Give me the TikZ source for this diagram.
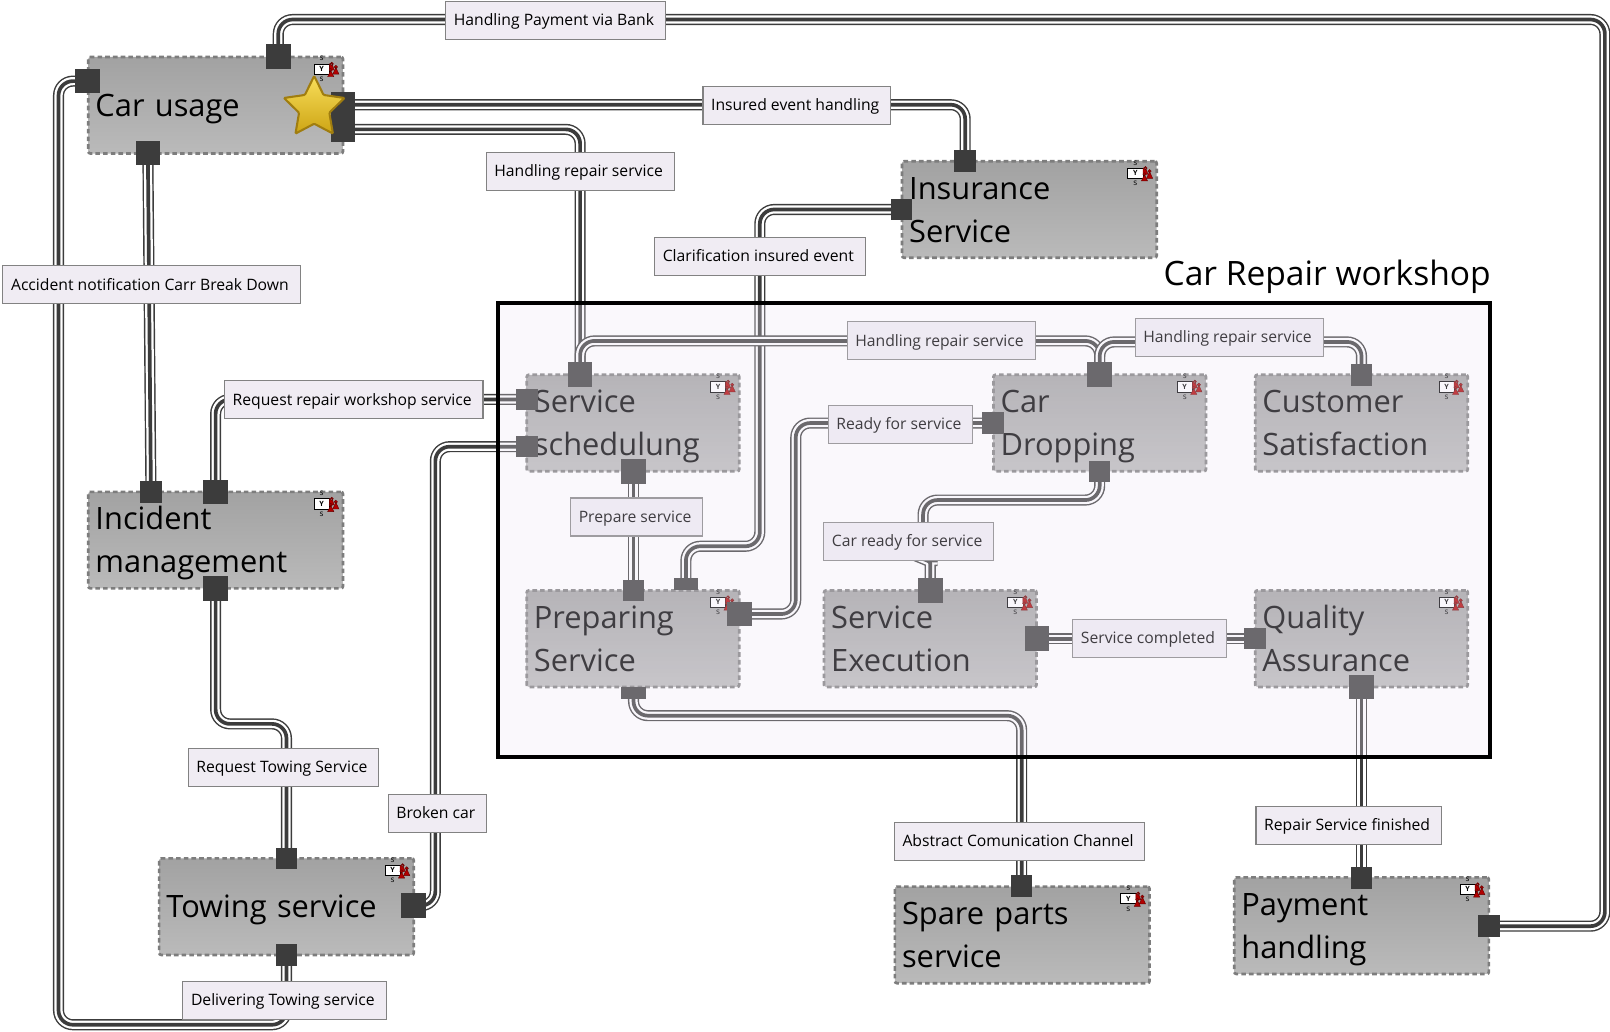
\documentclass[tikz,border=0pt]{standalone}
\usepackage{fontspec}
\setmainfont{Open Sans}
\usetikzlibrary{backgrounds,shapes.geometric}
\definecolor{chanDark}{RGB}{60,60,60}
\definecolor{lblFill}{RGB}{240,236,243}
\definecolor{lblLine}{RGB}{130,130,130}
\definecolor{boxTop}{RGB}{162,162,162}
\definecolor{boxBot}{RGB}{186,186,186}
\definecolor{boxLine}{RGB}{125,125,125}
\definecolor{veil}{RGB}{236,229,244}
\definecolor{starLine}{RGB}{160,125,15}
\definecolor{starTop}{RGB}{248,222,90}
\definecolor{starBot}{RGB}{205,165,20}
\tikzset{
	carbox/.style={draw=boxLine,line width=2.6pt,dash pattern=on 4.5pt off 3pt,rounded corners=2pt,top color=boxTop,bottom color=boxBot,minimum height=94pt,inner xsep=7pt,inner ysep=0pt,align=left,text height=10pt,text depth=30pt,font=\fontsize{30}{42}\selectfont},
	oneline/.style={text height=21pt,text depth=0pt},
	wide/.style={minimum width=248pt,text width=234pt},
	narrow/.style={minimum width=207pt,text width=193pt},
	portbig/.style={fill=chanDark,inner sep=0pt,minimum size=24pt},
	portsmall/.style={fill=chanDark,inner sep=0pt,minimum size=21pt},
	portflat/.style={fill=chanDark,inner sep=0pt,minimum width=24pt,minimum height=12pt},
	chan/.style={draw=chanDark,line width=10.8pt,rounded corners=14pt,postaction={draw=white,line width=8pt},postaction={draw=chanDark,line width=3.6pt}},
	lbl/.style={draw=lblLine,line width=1pt,fill=lblFill,minimum height=37pt,inner xsep=8pt,inner ysep=0pt,text height=13pt,text depth=3pt,font=\fontsize{15.3}{18}\selectfont,execute at end node=\hspace*{3pt}},
	iconbox/.style={draw=black,line width=.6pt,fill=white,minimum width=15pt,minimum height=10pt,inner sep=0pt,font=\fontsize{7}{8}\bfseries\selectfont},
	icons/.style={inner sep=0pt,font=\fontsize{8}{8}\selectfont},
	pawn/.style={fill=red!70!black,draw=red!40!black,line width=.4pt}
}
\newcommand{\roleicon}[1]{
	\node[iconbox] (#1Y) at ([shift={(-22,13)}]#1.north east) {Y};
	\node[icons] (#1Sa) at ([shift={(0,-10)}]#1Y.center) {s};\node[icons] (#1Sb) at ([shift={(0,10)}]#1Y.center) {s};
	\path[pawn] ([shift={(2,-5)}]#1Y.east) circle (1.6pt) ++(-2.4,0) -- ++(2.4,-0.5) -- ++(2.4,6.5) -- ++(-4.8,0) -- cycle;
	\path[pawn] ([shift={(6,-2)}]#1Y.east) circle (1.6pt) ++(0,0.5) -- ++(-3,6.5) -- ++(6,0) -- cycle;
	\path[pawn] ([shift={(1,1)}]#1Y.east) circle (1.6pt) ++(0,0.5) -- ++(-3,6) -- ++(6,0) -- cycle;
}
\begin{document}
\begin{tikzpicture}[x=1pt,y=-1pt]
	\useasboundingbox (0,0) rectangle (1568,1005);
	% boxes
	\node[carbox,wide,oneline] (carusage) at (210,102.5){Car usage};
	\node[carbox,wide] (insurance) at (1002.5,204){Insurance\\Service};
	\node[carbox,wide] (incident) at (210,526){Incident\\management};
	\node[carbox,wide,oneline] (towing) at (279,883){Towing service};
	\node[carbox,wide] (spare) at (995.5,910.5){Spare parts\\service};
	\node[carbox,wide] (payment) at (1326,901.5){Payment\\handling};
	\node[carbox,narrow] (sched) at (616.5,412){Service\\schedulung};
	\node[carbox,narrow] (drop) at (1071,412){Car\\Dropping};
	\node[carbox,narrow] (cust) at (1326,412){Customer\\Satisfaction};
	\node[carbox,narrow] (prep) at (616.5,622){Preparing\\Service};
	\node[carbox,narrow] (exec) at (906,622){Service\\Execution};
	\node[carbox,narrow] (qual) at (1326,622){Quality\\Assurance};
	\roleicon{carusage}\roleicon{insurance}\roleicon{incident}\roleicon{towing}\roleicon{spare}\roleicon{payment}
	\roleicon{sched}\roleicon{drop}\roleicon{cust}\roleicon{prep}\roleicon{exec}\roleicon{qual}
	% ports
	\node[portbig] (cuTop) at (271,55){};\node[portbig] (cuLeft) at (85,79){};\node[portbig] (cuBottom) at (144,149){};
	\node[portbig] (cuRightA) at (334,102){};\node[portbig] (cuRightB) at (334,126){};
	\node[portsmall] (insTop) at (940,157){};\node[portsmall] (insLeft) at (878,204){};
	\node[portsmall] (incTopA) at (147,479){};\node[portbig] (incTopB) at (210,479){};\node[portbig] (incBottom) at (210,573){};
	\node[portsmall] (towTop) at (279,836){};\node[portsmall] (towBottom) at (279,930){};\node[portbig] (towRight) at (403,882){};
	\node[portsmall] (spareTop) at (995,863){};
	\node[portsmall] (payTop) at (1326,855){};\node[portsmall] (payRight) at (1450,902){};
	\node[portbig] (schedTop) at (565,365){};\node[portsmall] (schedLeftA) at (513,389){};\node[portsmall] (schedLeftB) at (513,435){};\node[portbig] (schedBottom) at (617,459){};
	\node[portsmall] (prepTopA) at (617,575){};\node[portflat] (prepTopB) at (668,569){};\node[portbig] (prepRight) at (720,598){};\node[portflat] (prepBottom) at (617,675){};
	\node[portbig] (dropTop) at (1071,365){};\node[portsmall] (dropLeft) at (967,412){};\node[portsmall] (dropBottom) at (1071,459){};
	\node[portsmall] (custTop) at (1326,365){};
	\node[portbig] (execTop) at (906,575){};\node[portbig] (execRight) at (1010,622){};
	\node[portsmall] (qualLeft) at (1222,622){};\node[portbig] (qualBottom) at (1326,669){};
	% labels
	\node[lbl] (lblBank) at (541,19.5){Handling Payment via Bank};
	\node[lbl] (lblInsured) at (776,102.5){Insured event handling};
	\node[lbl] (lblHandA) at (565,167){Handling repair service};
	\node[lbl] (lblClar) at (740,249.5){Clarification insured event};
	\node[lbl] (lblAccident) at (147.5,277.5){Accident notification Carr Break Down};
	\node[lbl] (lblRequest) at (344.5,389.5){Request repair workshop service};
	\node[lbl] (lblHandB) at (916.5,332){Handling repair service};
	\node[lbl] (lblHandC) at (1197,329){Handling repair service};
	\node[lbl] (lblReady) at (877,413){Ready for service};
	\node[lbl] (lblPrepare) at (620,503.5){Prepare service};
	\node[lbl] (lblCarReady) at (885,527){Car ready for service};
	\node[lbl] (lblDone) at (1119.5,622){Service completed};
	\node[lbl] (lblTowing) at (276,747){Request Towing Service};
	\node[lbl] (lblBroken) at (426,792){Broken car};
	\node[lbl] (lblAbstract) at (993,819.5){Abstract Comunication Channel};
	\node[lbl] (lblFinished) at (1313.5,803.5){Repair Service finished};
	\node[lbl] (lblDeliver) at (277,974.5){Delivering Towing service};
	% star and title
	\node[star,star points=5,star point ratio=2.0,minimum size=62pt,inner sep=0pt,draw=starLine,line width=2pt,top color=starTop,bottom color=starBot,rounded corners=1pt] (mainStar) at (306,105){};
	\node[anchor=base west,inner sep=0pt,font=\fontsize{32.7}{40}\selectfont] (title) at (1133,278){Car Repair workshop};
	% bends
	\coordinate (bendNE) at (1563,19);
	\coordinate (bendSW) at (57,998);
	\coordinate (bendRepair) at (210,389);
	\coordinate (bendTow) at (279,705);
	\coordinate (bendBroken) at (424,435);
	\coordinate (bendClar) at (668,532);
	\coordinate (bendReady) at (775,412);
	\coordinate (bendDrop) at (899,487);
	\coordinate (bendKink) at (899,546);
	\coordinate (bendAbs) at (995,697);
	\coordinate (bendHandB) at (916,332);
	\coordinate (bendHandC) at (1197,333);
	% connectors
	\begin{scope}[on background layer]
		\draw[chan] (cuTop.center) |- (bendNE) |- (payRight.center);
		\draw[chan] (cuLeft.center) -| (bendSW) -| (towBottom.center);
		\draw[chan] (cuBottom.center) -- (incTopA.center);
		\draw[chan] (cuRightA.center) -| (insTop.center);
		\draw[chan] (cuRightB.center) -| (lblHandA.center) -- (schedTop.center);
		\draw[chan] (insLeft.center) -| (lblClar.center) |- (bendClar) -- (prepTopB.center);
		\draw[chan] (schedTop.center) |- (bendHandB) -| (dropTop.center);
		\draw[chan] (dropTop.center) |- (bendHandC) -| (custTop.center);
		\draw[chan] (incTopB.center) -- (bendRepair) -- (schedLeftA.center);
		\draw[chan] (incBottom.center) |- (bendTow) -- (towTop.center);
		\draw[chan] (towRight.center) -| (bendBroken) -- (schedLeftB.center);
		\draw[chan] (prepRight.center) -| (bendReady) -- (dropLeft.center);
		\draw[chan] (schedBottom.center) -- (prepTopA.center);
		\draw[chan] (dropBottom.center) |- (bendDrop) -- (bendKink) [rounded corners=3pt] -| (execTop.center);
		\draw[chan] (execRight.center) -- (qualLeft.center);
		\draw[chan] (qualBottom.center) -- (payTop.center);
		\draw[chan] (prepBottom.center) |- (bendAbs) -- (spareTop.center);
	\end{scope}
	% workshop frame
	\fill[veil,fill opacity=.27] (485,295) rectangle (1451,737);
	\draw[line width=4pt] (485,295) rectangle (1451,737);
\end{tikzpicture}
\end{document}
